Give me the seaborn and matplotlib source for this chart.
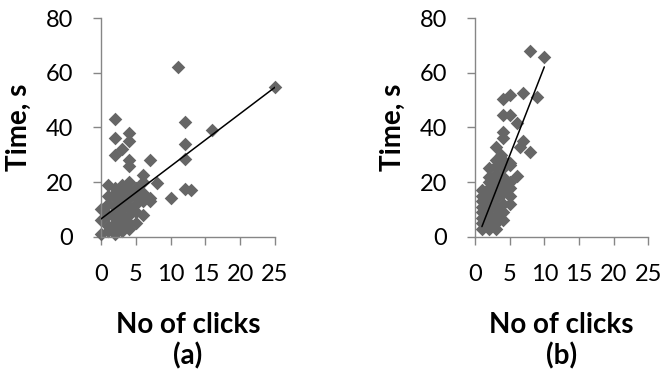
import numpy as np
import seaborn as sns
import matplotlib.pyplot as plt

# panel (a)
clicks_a = [25, 11, 2, 12, 4, 2, 4, 16, 12, 3, 2, 4, 4, 7, 12, 6, 8, 10, 12, 13, 7,
            0, 0, 0, 1, 1, 1, 1, 1, 1, 2, 2, 2, 2, 2, 2, 2, 2, 2,
            3, 3, 3, 3, 3, 3, 3, 3, 3, 4, 4, 4, 4, 4, 4, 4,
            5, 5, 5, 5, 5, 6, 6, 6, 6, 7]
time_a = [55, 62, 43, 42, 38, 36, 35, 39, 34, 32, 30, 28, 26, 28, 28.5, 22.5, 19.5, 14, 17.5, 17, 13,
          1, 6, 10, 2, 4, 8, 12, 15, 19, 1, 3, 5, 7, 9, 11, 14, 16, 18,
          2, 4, 6, 8, 10, 13, 15, 17, 19, 3, 5, 8, 11, 14, 17, 20,
          5, 9, 12, 15, 18, 8, 13, 16, 20, 14]

# panel (b)
clicks_b = [8, 10, 5, 4, 7, 9, 4, 5, 6, 4, 4, 7, 6.5, 8, 3, 5, 6, 5, 4, 3.7,
            1, 1, 1, 1, 1, 1, 1, 1,
            2, 2, 2, 2, 2, 2, 2, 2, 2, 2, 2, 2,
            3, 3, 3, 3, 3, 3, 3, 3, 3, 3,
            4, 4, 4, 4, 4, 4, 4,
            5, 5, 5, 5]
time_b = [68, 66, 52, 50.5, 52.6, 51, 44.7, 44.4, 41.6, 38.5, 36, 35, 33, 31, 33, 26.3, 22.4, 17.7, 22, 30,
          3, 5, 7, 9, 11, 13, 15, 17,
          3, 4, 6, 8, 10, 12, 14, 16, 18, 20, 22, 25,
          3, 5, 8, 11, 14, 17, 20, 23, 26, 28,
          6, 9, 12, 16, 19, 25, 28,
          12, 15, 20, 27]

# trendlines: slope, intercept
trend_a = [1.93, 6.5]
trend_b = [6.5, -2.8]

x_ticks = [0, 5, 10, 15, 20, 25]
y_ticks = [0, 20, 40, 60, 80]
panel_names = ["(a)", "(b)"]

sns.set_style("white")
plt.rcParams['font.family'] = ['Lato', 'DejaVu Sans']

fig = plt.figure(figsize=(6.63, 3.75), dpi=100)
ax_a = fig.add_axes([0.1523, 0.3688, 0.2625, 0.5824])
ax_b = fig.add_axes([0.7164, 0.3688, 0.2614, 0.5824])

axis_grey = "#868686"
point_grey = "#666666"

for ax, xs, ys, tr, name in [(ax_a, clicks_a, time_a, trend_a, panel_names[0]),
                             (ax_b, clicks_b, time_b, trend_b, panel_names[1])]:
    sns.scatterplot(x=xs, y=ys, marker="D", color=point_grey, s=48, linewidth=0, ax=ax, zorder=2)
    lx = np.array([min(xs), max(xs)])
    ax.plot(lx, tr[0] * lx + tr[1], color="black", lw=1.1, zorder=3)

    ax.set_xlim(0, 25)
    ax.set_ylim(0, 80)
    ax.set_xticks(x_ticks)
    ax.set_yticks(y_ticks)
    ax.tick_params(axis="both", direction="out", length=6, width=1, color=axis_grey,
                   labelcolor="black", labelsize=17, pad=14, bottom=True, left=True)
    for side in ["top", "right"]:
        ax.spines[side].set_visible(False)
    for side in ["left", "bottom"]:
        ax.spines[side].set_color(axis_grey)
        ax.spines[side].set_linewidth(1)

    ax.set_ylabel("Time, s", fontsize=20, fontweight="bold", color="black")
    ax.yaxis.set_label_coords(-0.40, 0.5)
    ax.set_xlabel("No of clicks\n" + name, fontsize=20, fontweight="bold", color="black",
                  linespacing=1.2)
    ax.xaxis.set_label_coords(0.5, -0.345)
    ax.xaxis.label.set_va("top")

for c in ax_a.collections + ax_b.collections:
    c.set_clip_on(False)

fig.savefig("out.png", dpi=100)
